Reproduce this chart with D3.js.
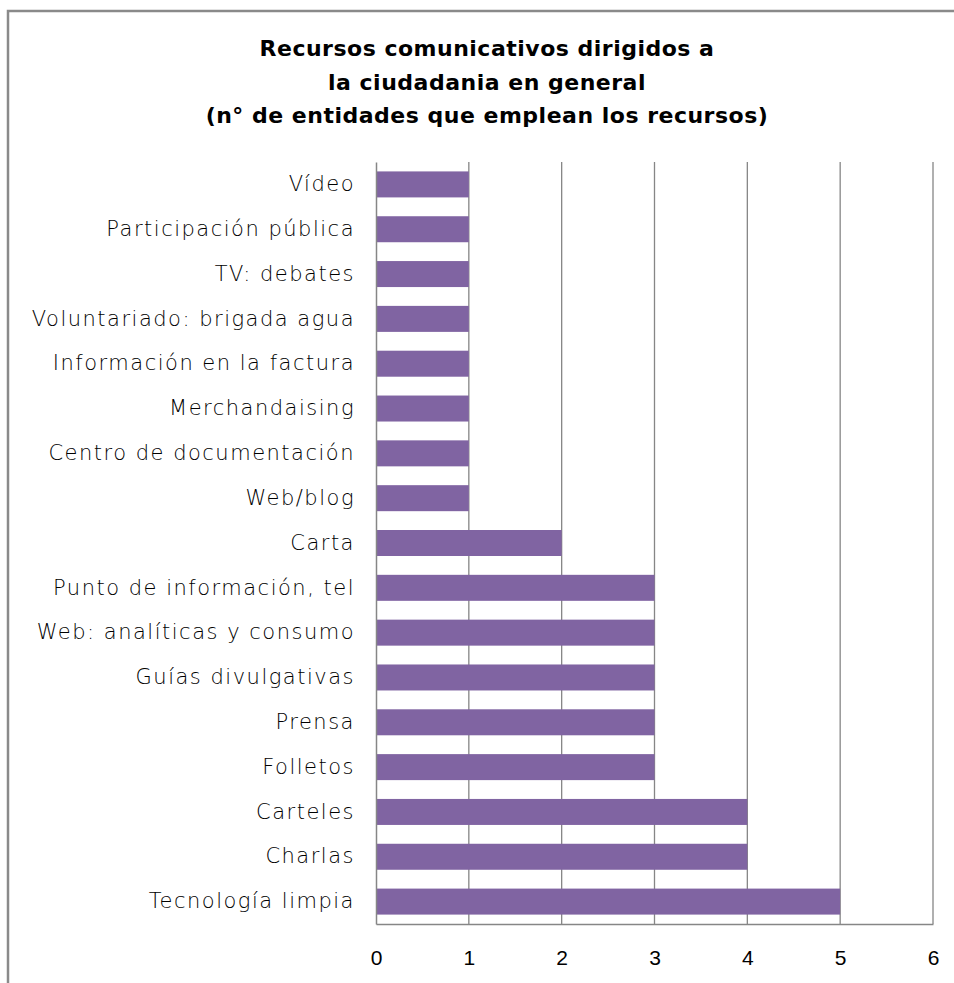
<!DOCTYPE html>
<html>
<head>
<meta charset="utf-8">
<script src="https://cdn.jsdelivr.net/npm/d3@7"></script>
<style>
  html, body { margin: 0; padding: 0; background: #fff; }
  svg { display: block; }
</style>
</head>
<body>
<div id="chart"></div>
<script>
// Communication resources aimed at the general public (number of entities using each)
const categories = [
  "Vídeo",
  "Participación pública",
  "TV: debates",
  "Voluntariado: brigada agua",
  "Información en la factura",
  "Merchandaising",
  "Centro de documentación",
  "Web/blog",
  "Carta",
  "Punto de información, tel",
  "Web: analíticas y consumo",
  "Guías divulgativas",
  "Prensa",
  "Folletos",
  "Carteles",
  "Charlas",
  "Tecnología limpia"
];
const values = [1, 1, 1, 1, 1, 1, 1, 1, 2, 3, 3, 3, 3, 3, 4, 4, 5];
const xTicks = [0, 1, 2, 3, 4, 5, 6];
const titleLines = [
  "Recursos comunicativos dirigidos a",
  "la ciudadania en general",
  "(n° de entidades que emplean los recursos)"
];

const W = 954, H = 983;
const plot = { left: 376, top: 162, right: 933, bottom: 924 };
const gridColor = "#868686";
const barColor = "#8064a2";

const svg = d3.select("#chart").append("svg")
  .attr("width", W).attr("height", H);

// chart frame
svg.append("rect")
  .attr("x", 8).attr("y", 11)
  .attr("width", W + 20).attr("height", H + 20)
  .attr("fill", "#fff")
  .attr("stroke", "#8a8a8a").attr("stroke-width", 2.5);

// title
svg.append("g").selectAll("text").data(titleLines).join("text")
  .attr("x", 487)
  .attr("y", (d, i) => 56 + i * 33.5)
  .attr("text-anchor", "middle")
  .attr("font-family", "'DejaVu Sans', sans-serif")
  .attr("font-weight", "bold")
  .attr("font-size", 22)
  .attr("letter-spacing", 0.5)
  .attr("fill", "#000")
  .text(d => d);

const x = d3.scaleLinear().domain([0, 6]).range([plot.left, plot.right]);
const y = d3.scaleBand().domain(categories)
  .range([plot.top, plot.bottom]).paddingInner(0.42).paddingOuter(0.21);

// vertical gridlines
svg.append("g").selectAll("line").data(xTicks.slice(1)).join("line")
  .attr("x1", d => x(d)).attr("x2", d => x(d))
  .attr("y1", plot.top).attr("y2", plot.bottom)
  .attr("stroke", gridColor).attr("stroke-width", 1.3);

// bars
svg.append("g").selectAll("rect").data(categories).join("rect")
  .attr("x", x(0))
  .attr("y", d => y(d))
  .attr("width", (d, i) => x(values[i]) - x(0))
  .attr("height", y.bandwidth())
  .attr("fill", barColor);

// x axis
const xAxis = svg.append("g")
  .attr("transform", `translate(0,${plot.bottom})`)
  .call(d3.axisBottom(x).tickValues(xTicks).tickSize(0).tickPadding(26).tickFormat(d3.format("d")));
xAxis.select(".domain").attr("stroke", gridColor).attr("stroke-width", 1.3);
xAxis.selectAll("text")
  .attr("font-family", "'Liberation Sans', Arial, sans-serif")
  .attr("font-size", 21)
  .attr("fill", "#000");

// y axis
const yAxis = svg.append("g")
  .attr("transform", `translate(${plot.left},0)`)
  .call(d3.axisLeft(y).tickSize(0).tickPadding(21));
yAxis.select(".domain").attr("stroke", gridColor).attr("stroke-width", 1.5);
yAxis.selectAll("text")
  .attr("font-family", "'DejaVu Sans', sans-serif")
  .attr("font-weight", 200)
  .attr("font-size", 21)
  .attr("letter-spacing", 1.5)
  .attr("fill", "#000");
</script>
</body>
</html>
